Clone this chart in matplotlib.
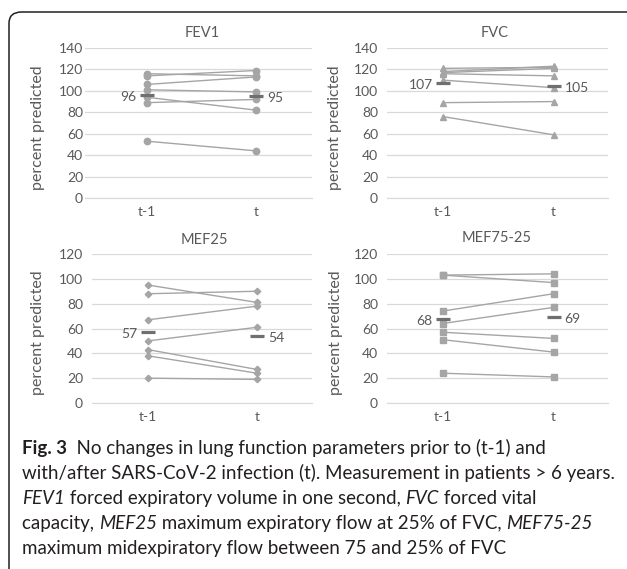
import matplotlib
matplotlib.use("Agg")
import matplotlib.pyplot as plt
from matplotlib.patches import FancyBboxPatch

# data
categories = ["t-1", "t"]

fev1_pre = [114, 116, 106, 101, 94, 89, 53]
fev1_post = [119, 114, 113, 99, 82, 92, 44]
fev1_mean = [96, 95]

fvc_pre = [121, 118, 117, 116, 110, 89, 76]
fvc_post = [122, 123, 121, 114, 103, 90, 59]
fvc_mean = [107, 105]

mef25_pre = [95, 88, 67, 50, 43, 38, 20]
mef25_post = [81, 90, 78, 61, 27, 24, 19]
mef25_mean = [57, 54]

mef7525_pre = [103, 103, 74, 64, 57, 51, 24]
mef7525_post = [104, 97, 88, 77, 52, 41, 21]
mef7525_mean = [68, 69]

W, H = 627, 569
TXT = "#595959"
FONT = "Lato"

fig = plt.figure(figsize=(W / 100, H / 100), dpi=100)
fig.patch.set_facecolor("white")


def add_panel(title, pre, post, mean, marker, ms, ymax, box, cx, title_xy, pad_px):
    l, t, r, b = box
    ax = fig.add_axes([l / W, 1 - b / H, (r - l) / W, (b - t) / H])
    unit = cx[1] - cx[0]
    ax.set_xlim((l - cx[0]) / unit, 1 + (r - cx[1]) / unit)
    ax.set_ylim(0, ymax)
    ax.set_yticks(range(0, ymax + 1, 20))
    ax.set_xticks([0, 1])
    ax.set_xticklabels(categories)
    ax.grid(axis="y", color="#d9d9d9", lw=0.9)
    ax.set_axisbelow(True)
    for s in ["top", "right", "left"]:
        ax.spines[s].set_visible(False)
    ax.spines["bottom"].set_color("#d9d9d9")
    ax.tick_params(length=0, labelsize=10, labelcolor=TXT)
    ax.tick_params(axis="y", pad=pad_px * 0.72)
    ax.tick_params(axis="x", pad=6)
    for lab in ax.get_xticklabels() + ax.get_yticklabels():
        lab.set_fontfamily(FONT)

    for a, c in zip(pre, post):
        ax.plot([0, 1], [a, c], color="#a5a5a5", lw=1, marker=marker, ms=ms,
                mfc="#a5a5a5", mec="#a5a5a5", zorder=2)

    ax.plot([0, 1], mean, ls="none", marker="_", ms=9.5, mew=2.3,
            color="#6f6f6f", zorder=3)
    ax.annotate(str(mean[0]), (0, mean[0]), xytext=(-7.5, -1.5),
                textcoords="offset points", ha="right", va="center",
                fontsize=10, color=TXT, family=FONT)
    ax.annotate(str(mean[1]), (1, mean[1]), xytext=(8, -1.5),
                textcoords="offset points", ha="left", va="center",
                fontsize=10, color=TXT, family=FONT)

    ax.set_ylabel("percent predicted", fontsize=11.5, color=TXT, family=FONT)
    ax.yaxis.set_label_coords((title_xy[2] - l) / (r - l), 0.47)
    fig.text(title_xy[0] / W, 1 - title_xy[1] / H, title, ha="center",
             va="center", fontsize=10.5, color=TXT, family=FONT)
    return ax


add_panel("FEV1", fev1_pre, fev1_post, fev1_mean, "o", 4.6, 140,
          (85, 48, 312, 198), (147, 256), (202, 33, 45), 2)
add_panel("FVC", fvc_pre, fvc_post, fvc_mean, "^", 5, 140,
          (387, 48, 608, 198), (443, 553.5), (495, 33, 342), 9)
add_panel("MEF25", mef25_pre, mef25_post, mef25_mean, "D", 3.3, 120,
          (92, 254, 312, 403), (148, 257), (204, 240, 45), 9)
add_panel("MEF75-25", mef7525_pre, mef7525_post, mef7525_mean, "s", 4.6, 120,
          (387, 254, 608, 403), (442.5, 553.5), (497, 238, 343), 9)

# rounded frame around the figure panel, open to the right/bottom
frame = FancyBboxPatch((9 / W, -0.1), 0.2, 1.1 - 12 / H,
                       boxstyle="round,pad=0,rounding_size=0.02",
                       transform=fig.transFigure, fill=False,
                       ec="#231f20", lw=1.1)
frame.set_width(1.2)
fig.patches.append(frame)

# caption
caption = [
    [("Fig. 3", "bold", "normal"),
     ("  No changes in lung function parameters prior to (t-1) and", "normal", "normal")],
    [("with/after SARS-CoV-2 infection (t). Measurement in patients > 6 years.", "normal", "normal")],
    [("FEV1", "normal", "italic"), (" forced expiratory volume in one second, ", "normal", "normal"),
     ("FVC", "normal", "italic"), (" forced vital", "normal", "normal")],
    [("capacity, ", "normal", "normal"), ("MEF25", "normal", "italic"),
     (" maximum expiratory flow at 25% of FVC, ", "normal", "normal"),
     ("MEF75-25", "normal", "italic")],
    [("maximum midexpiratory flow between 75 and 25% of FVC", "normal", "normal")],
]

renderer = fig.canvas.get_renderer()
probe = fig.text(0, 0, caption[1][0][0], fontsize=12, family=FONT)
wpx = probe.get_window_extent(renderer).width
probe.remove()
cap_size = 12 * 591 / wpx

for i, runs in enumerate(caption):
    x = 22
    y = 454 + 25 * i
    for s, weight, style in runs:
        t = fig.text(x / W, 1 - y / H, s, fontsize=cap_size, family=FONT,
                     weight=weight, style=style, color="#231f20",
                     va="baseline", ha="left")
        x += t.get_window_extent(renderer).width

fig.savefig("out.png", dpi=100)
